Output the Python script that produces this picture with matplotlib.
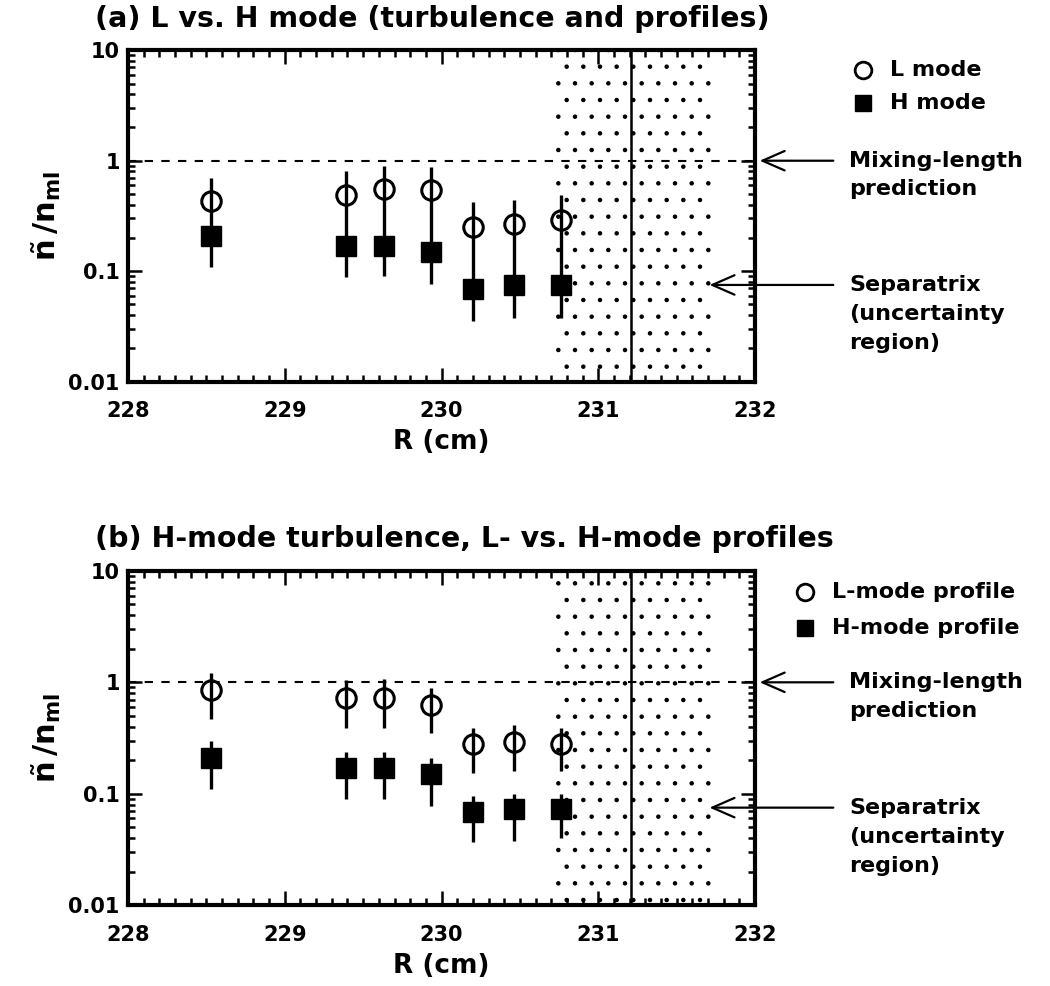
import numpy as np
import matplotlib.pyplot as plt
from matplotlib.ticker import FixedLocator, NullFormatter, LogLocator

R = [228.53, 229.39, 229.63, 229.93, 230.2, 230.46, 230.76]

# panel (a)
a_L = [0.43, 0.49, 0.55, 0.54, 0.25, 0.265, 0.29]
a_L_hi = [0.70, 0.81, 0.90, 0.88, 0.42, 0.44, 0.49]
a_H = [0.21, 0.17, 0.17, 0.15, 0.069, 0.075, 0.075]
a_H_lo = [0.11, 0.088, 0.09, 0.076, 0.035, 0.038, 0.038]

# panel (b)
b_L = [0.85, 0.72, 0.72, 0.62, 0.28, 0.29, 0.28]
b_L_hi = [1.2, 1.04, 1.06, 0.88, 0.39, 0.41, 0.39]
b_L_lo = [0.47, 0.39, 0.39, 0.35, 0.155, 0.16, 0.16]
b_H = [0.21, 0.17, 0.17, 0.15, 0.068, 0.073, 0.073]
b_H_hi = [0.30, 0.235, 0.235, 0.21, 0.096, 0.10, 0.10]
b_H_lo = [0.11, 0.09, 0.09, 0.078, 0.037, 0.038, 0.04]

sep_lo, sep_hi, sep_R = 230.71, 231.73, 231.21

plt.rcParams['font.family'] = 'DejaVu Sans'
plt.rcParams['font.weight'] = 'bold'
plt.rcParams['hatch.linewidth'] = 0.8

fig = plt.figure(figsize=(10.5, 9.86), dpi=100)
ax1 = fig.add_axes([0.122, 0.613, 0.597, 0.336])
ax2 = fig.add_axes([0.122, 0.082, 0.597, 0.339])


def panel(ax, L, L_lo, L_hi, H, H_lo, H_hi, title, lab1, lab2, legx, legy):
    ax.set_yscale('log')
    ax.set_xlim(228, 232)
    ax.set_ylim(0.01, 10)
    ax.axvspan(sep_lo, sep_hi, facecolor='none', edgecolor='k', hatch='.', linewidth=0, zorder=0)
    ax.axvline(sep_R, color='k', lw=1.8, zorder=1)
    ax.axhline(1, color='k', lw=1.5, ls=(0, (4, 4)), zorder=1)
    L = np.array(L); H = np.array(H)
    ax.errorbar(R, L, yerr=[L - np.array(L_lo), np.array(L_hi) - L], fmt='o', ms=14,
                mfc='none', mec='k', mew=2.2, ecolor='k', elinewidth=2.4, capsize=0, zorder=3)
    ax.errorbar(R, H, yerr=[H - np.array(H_lo), np.array(H_hi) - H], fmt='s', ms=15,
                mfc='k', mec='k', ecolor='k', elinewidth=2.4, capsize=0, zorder=4)
    ax.xaxis.set_major_locator(FixedLocator([228, 229, 230, 231, 232]))
    ax.xaxis.set_minor_locator(FixedLocator(np.arange(228, 232.01, 0.1)))
    ax.yaxis.set_major_locator(LogLocator(base=10, numticks=10))
    ax.yaxis.set_minor_locator(LogLocator(base=10, subs=np.arange(2, 10), numticks=10))
    ax.yaxis.set_minor_formatter(NullFormatter())
    ax.set_yticks([0.01, 0.1, 1, 10])
    ax.set_yticklabels(['0.01', '0.1', '1', '10'])
    ax.tick_params(which='both', direction='in', top=True, right=True, labelsize=15, width=1.8)
    ax.tick_params(axis='x', pad=14)
    ax.tick_params(axis='y', pad=6)
    ax.tick_params(which='major', length=10)
    ax.tick_params(which='minor', length=5)
    for s in ax.spines.values():
        s.set_linewidth(3)
    ax.set_ylabel(r'$\mathbf{\tilde{n}\,/n_{ml}}$', fontsize=22, labelpad=4)
    ax.set_xlabel('R (cm)', fontsize=19, fontweight='bold', labelpad=6)
    ax.set_title(title, fontsize=20.5, fontweight='bold', loc='left', x=-0.053, pad=17)
    # legend drawn as symbols + text
    ax.plot([legx], [legy[0]], 'o', ms=12, mfc='white', mec='k', mew=2, clip_on=False)
    ax.plot([legx], [legy[1]], 's', ms=12, mfc='k', mec='k', clip_on=False)
    ax.text(legx + 0.17, legy[0], lab1, fontsize=16, fontweight='bold', va='center')
    ax.text(legx + 0.17, legy[1], lab2, fontsize=16, fontweight='bold', va='center')
    arr = dict(arrowstyle='->,head_length=1.6,head_width=0.7', lw=1.6, color='k', shrinkA=0, shrinkB=0)
    ax.annotate('', xy=(232.03, 1), xytext=(232.5, 1), arrowprops=arr, annotation_clip=False)
    ax.annotate('', xy=(231.71, 0.075), xytext=(232.5, 0.075), arrowprops=arr, annotation_clip=False)
    ax.text(232.6, 1, 'Mixing-length', fontsize=16, fontweight='bold', va='center', ha='left')
    ax.text(232.6, 0.55, 'prediction', fontsize=16, fontweight='bold', va='center', ha='left')
    ax.text(232.6, 0.075, 'Separatrix', fontsize=16, fontweight='bold', va='center', ha='left')
    ax.text(232.6, 0.041, '(uncertainty', fontsize=16, fontweight='bold', va='center', ha='left')
    ax.text(232.6, 0.0225, 'region)', fontsize=16, fontweight='bold', va='center', ha='left')


panel(ax1, a_L, a_H, a_L_hi, a_H, a_H_lo, a_H,
      '(a) L vs. H mode (turbulence and profiles)', 'L mode', 'H mode', 232.69, (6.6, 3.3))
panel(ax2, b_L, b_L_lo, b_L_hi, b_H, b_H_lo, b_H_hi,
      '(b) H-mode turbulence, L- vs. H-mode profiles', 'L-mode profile', 'H-mode profile',
      232.32, (6.5, 3.1))

fig.savefig('out.png', dpi=100)
